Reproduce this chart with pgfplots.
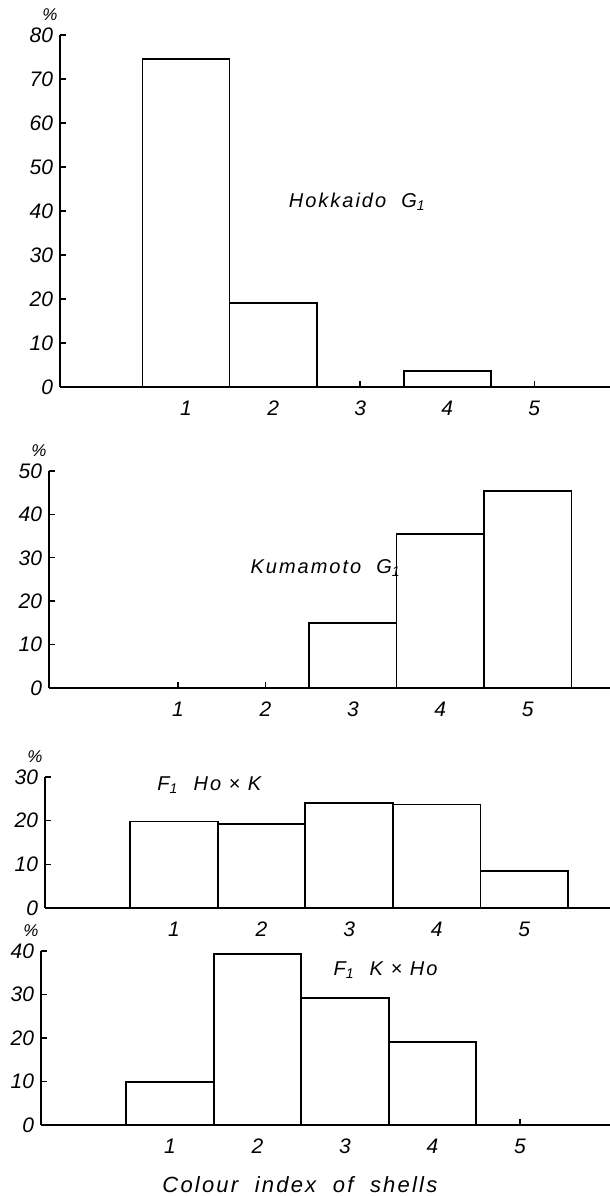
\documentclass[border=0pt]{standalone}
\usepackage{fontspec}
\setmainfont{Liberation Sans}
\newfontfamily\lab[LetterSpace=10]{Liberation Sans}
\usepackage{pgfplots}
\pgfplotsset{compat=1.18}
\pgfplotsset{
  panel/.style={
    scale only axis,
    anchor=south west,
    axis lines*=left,
    axis line style={line width=0.9pt,-},
    tick align=inside,
    major tick length=3pt,
    tick style={black, line width=0.7pt},
    xtick={1,2,3,4,5},
    ymin=0,
    ytick distance=10,
    ticklabel style={font=\itshape\fontsize{10.5}{12}\selectfont},
    /pgf/number format/assume math mode=true,
    xticklabel style={yshift=-3.5pt},
    clip=false,
  },
}
\tikzset{
  pct/.style={font=\itshape\fontsize{8.5}{9}\selectfont, xshift=-5pt, yshift=10pt},
  lbl/.style={anchor=west, font=\lab\itshape\fontsize{10}{12}\selectfont},
}
\begin{document}
\begin{tikzpicture}[x=1pt,y=1pt]
\useasboundingbox (0,0) rectangle (305,598);
% Panel 1: Hokkaido
\begin{axis}[panel, at={(30pt,404.5pt)}, width=275pt, height=176pt,
  xmin=-0.448, xmax=5.87, ymax=80]
\addplot[ybar, bar width=1, fill=white, draw=black, line width=0.9pt] coordinates {(1,74.5) (2,19.1) (4,3.6)};
\node[lbl] at (axis cs:2.1,42) {Hokkaido\ \ G\textsubscript{1}};
\node[pct] at (rel axis cs:0,1) {\%};
\end{axis}
% Panel 2: Kumamoto
\begin{axis}[panel, at={(24.5pt,254pt)}, width=280.5pt, height=108.5pt,
  xmin=-0.474, xmax=5.94, ymax=50]
\addplot[ybar, bar width=1, fill=white, draw=black, line width=0.9pt] coordinates {(3,15) (4,35.5) (5,45.3)};
\node[lbl] at (axis cs:1.75,27.6) {Kumamoto\ \ G\textsubscript{1}};
\node[pct] at (rel axis cs:0,1) {\%};
\end{axis}
% Panel 3: F1 Ho x K
\begin{axis}[panel, at={(22.5pt,144pt)}, width=282.5pt, height=65.5pt,
  xmin=-0.474, xmax=5.98, ymax=30]
\addplot[ybar, bar width=1, fill=white, draw=black, line width=0.9pt] coordinates {(1,19.8) (2,19.2) (3,24.1) (4,23.7) (5,8.5)};
\node[lbl] at (axis cs:0.73,28.1) {F\textsubscript{1}\ \ Ho\ × K};
\node[pct] at (rel axis cs:0,1) {\%};
\end{axis}
% Panel 4: F1 K x Ho
\begin{axis}[panel, at={(20.5pt,35.5pt)}, width=284.5pt, height=87pt,
  xmin=-0.474, xmax=6.03, ymax=40]
\addplot[ybar, bar width=1, fill=white, draw=black, line width=0.9pt] coordinates {(1,9.8) (2,39.3) (3,29.2) (4,19.1)};
\node[lbl] at (axis cs:2.79,35.6) {F\textsubscript{1}\ \ K × Ho};
\node[pct] at (rel axis cs:0,1) {\%};
\node[font=\lab\itshape\fontsize{11}{13}\selectfont, yshift=-30pt] at (rel axis cs:0.455,0) {Colour\ \ index\ \ of\ \ shells};
\end{axis}
\end{tikzpicture}
\end{document}
